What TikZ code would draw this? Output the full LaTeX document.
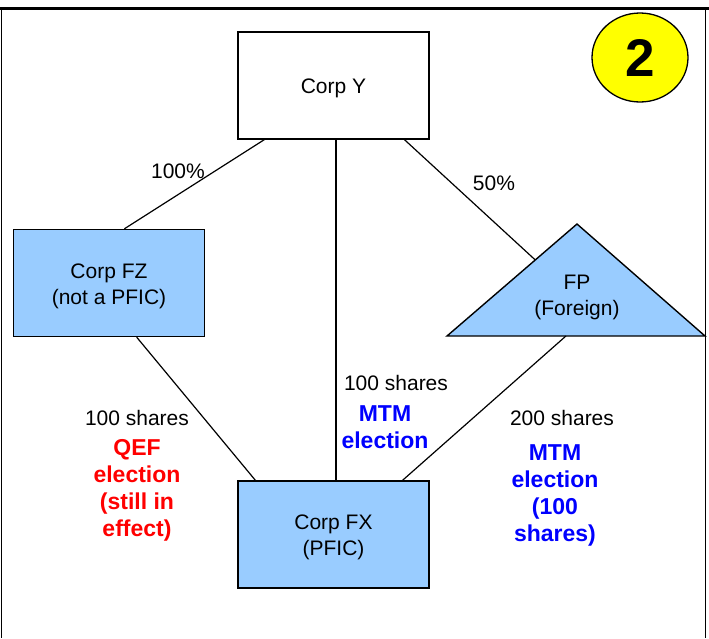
\documentclass[tikz,border=0pt]{standalone}
\usepackage{fontspec}
\setmainfont{Liberation Sans}
\usetikzlibrary{calc,shapes.geometric}
\definecolor{boxblue}{HTML}{99CCFF}
\definecolor{txtred}{HTML}{FF0000}
\definecolor{txtblue}{HTML}{0000FF}
\definecolor{badgeyellow}{HTML}{FFFF00}
\begin{document}
\begin{tikzpicture}[x=1pt,y=-1pt,
  entity/.style={draw=black, line width=1.4pt, minimum width=191pt, minimum height=107pt, inner sep=0pt},
  entitytext/.style={align=center, inner sep=0pt, font=\fontsize{21}{26}\selectfont, yshift=-3pt},
  link/.style={line width=1.2pt},
  lbl/.style={font=\fontsize{21}{26}\selectfont, inner sep=0pt},
  elect/.style={font=\fontsize{23}{27}\selectfont\bfseries, align=center, inner sep=0pt}]
\useasboundingbox (0,0) rectangle (709,638);
% frame
\draw[line width=3pt] (0,8) -- (709,8);
\draw[line width=1.5pt] (1.5,8) -- (1.5,638);
\draw[line width=1.5pt] (705.5,8) -- (705.5,638);
% nodes
\node[entity, fill=white] (Y) at (333.5,85.5) {};
\node[entitytext] (Ytxt) at (Y.center) {Corp Y};
\node[entity, fill=boxblue] (FZ) at (109,283) {};
\node[entitytext] (FZtxt) at (FZ.center) {Corp FZ\\(not a PFIC)};
\node[entity, fill=boxblue] (FX) at (333.5,534.5) {};
\node[entitytext] (FXtxt) at (FX.center) {Corp FX\\(PFIC)};
\coordinate (fpA) at (577,224);
\coordinate (fpL) at (447,336);
\coordinate (fpR) at (705,336);
\draw[fill=boxblue, line width=1.4pt, line join=miter] (fpA) -- (fpR) -- (fpL) -- cycle;
\node[align=center, font=\fontsize{21}{26}\selectfont, inner sep=0pt] (FP) at (577,297.5) {FP\\(Foreign)};
\node[draw, ellipse, fill=badgeyellow, line width=1.3pt, minimum width=96pt, minimum height=89pt, inner sep=0pt, font=\fontsize{53}{53}\selectfont\bfseries] (badge) at (640,57.5) {2};
% connectors
\draw[link] ($(Y.south west)!0.14!(Y.south east)$) -- ($(FZ.north west)!0.58!(FZ.north east)$);
\draw[link] ($(Y.south west)!0.513!(Y.south east)$) -- ($(FX.north west)!0.513!(FX.north east)$);
\draw[link] ($(Y.south west)!0.869!(Y.south east)$) -- ($(fpL)!0.679!(fpA)$);
\draw[link] ($(fpL)!0.461!(fpR)$) -- ($(FX.north west)!0.859!(FX.north east)$);
\draw[link] ($(FZ.south west)!0.644!(FZ.south east)$) -- ($(FX.north west)!0.094!(FX.north east)$);
% labels
\node[lbl] (p100) at (178,171) {100\%};
\node[lbl] (p50) at (494,183) {50\%};
\node[lbl] (sL) at (137,418) {100 shares};
\node[elect, text=txtred] (qef) at (137,490) {QEF\\election\\(still in\\effect)};
\node[lbl] (sM) at (396,383) {100 shares};
\node[elect, text=txtblue] (mtmM) at (385,427) {MTM\\election};
\node[lbl] (sR) at (562,418) {200 shares};
\node[elect, text=txtblue] (mtmR) at (555,495.5) {MTM\\election\\(100\\shares)};
\end{tikzpicture}
\end{document}
